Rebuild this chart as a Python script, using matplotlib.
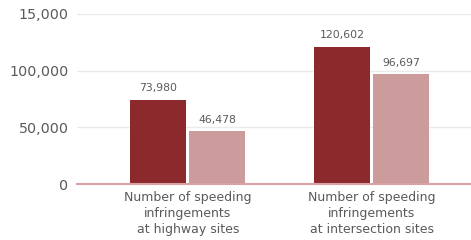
import numpy as np
import matplotlib.pyplot as plt

plt.rcParams['font.family'] = ['DejaVu Sans']

categories = ['Number of speeding\ninfringements\nat highway sites',
              'Number of speeding\ninfringements\nat intersection sites']
series_a = [73980, 120602]
series_b = [46478, 96697]
yticks = [0, 50000, 100000, 150000]
ytick_labels = ['0', '50,000', '100,000', '15,000']

dark = '#8B292C'
light = '#CC9C9D'
txt = '#5A5A5A'

fig = plt.figure(figsize=(4.71, 2.40), dpi=100)
ax = fig.add_axes([0.163, 0.233, 0.837, 0.709])

x = np.arange(len(categories))
w = 0.304
gap = 0.008
ax.bar(x - w/2 - gap, series_a, width=w, color=dark, zorder=3)
ax.bar(x + w/2 + gap, series_b, width=w, color=light, zorder=3)

for xi, v in zip(x - w/2 - gap, series_a):
    ax.text(xi, v + 6000, f'{v:,}', ha='center', va='bottom', fontsize=7.8, color=txt)
for xi, v in zip(x + w/2 + gap, series_b):
    ax.text(xi, v + 6000, f'{v:,}', ha='center', va='bottom', fontsize=7.8, color=txt)

ax.set_xlim(-0.603, 1.538)
ax.set_ylim(0, 150000)
ax.set_yticks(yticks)
ax.set_yticklabels(ytick_labels, fontsize=10.3, color=txt)
ax.set_xticks(x)
ax.set_xticklabels(categories, fontsize=9, color=txt, linespacing=1.3)
ax.tick_params(length=0, pad=6)
ax.tick_params(axis='x', pad=5)

ax.grid(axis='y', color='#EBEBEB', linewidth=1, zorder=0)
ax.set_axisbelow(True)
for s in ['top', 'right', 'left']:
    ax.spines[s].set_visible(False)
ax.spines['bottom'].set_color('#D9A3A5')
ax.spines['bottom'].set_linewidth(1.5)
ax.spines['bottom'].set_zorder(4)

plt.savefig('out.png', dpi=100)
